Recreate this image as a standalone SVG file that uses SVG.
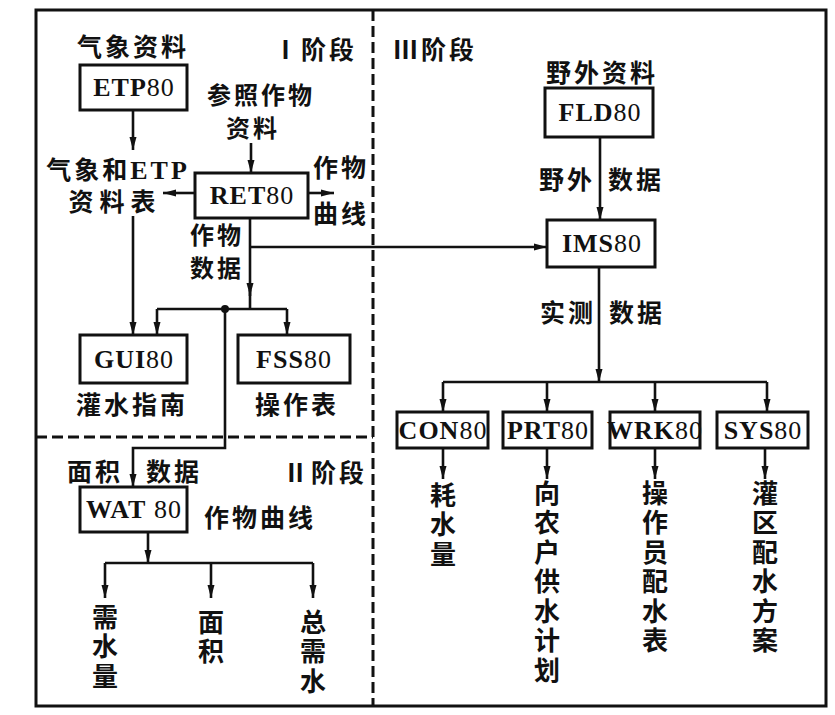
<svg xmlns="http://www.w3.org/2000/svg" width="835" height="715" viewBox="0 0 835 715">
<defs>
<style>
.cjk{font-family:"Noto Sans CJK SC","Noto Sans CJK TC",sans-serif;font-size:25px;font-weight:bold;fill:#111;text-anchor:middle;letter-spacing:3px}
.sm{font-size:24px}
.v{font-family:"Noto Sans CJK SC",sans-serif;font-size:26px;font-weight:bold;fill:#111;writing-mode:vertical-rl;text-orientation:upright;letter-spacing:3.5px}
.lbl{font-family:"Liberation Serif","Times New Roman",serif;font-size:26px;font-weight:bold;fill:#111;text-anchor:middle;letter-spacing:1px}
.num{font-weight:normal}
.box{fill:#fff;stroke:#111;stroke-width:3}
.ln{fill:none;stroke:#111;stroke-width:2.6}
.dash{fill:none;stroke:#111;stroke-width:3;stroke-dasharray:11 5}
.ar{marker-end:url(#ah)}
</style>
<marker id="ah" markerUnits="userSpaceOnUse" markerWidth="14" markerHeight="10" viewBox="0 -5 14 10" refX="13" refY="0" orient="auto">
<path d="M0,-3.5 L13,0 L0,3.5 z" fill="#111"/>
</marker>
</defs>
<rect width="835" height="715" fill="#fff"/>
<g id="frame">
<rect x="36" y="10" width="790" height="696" fill="none" stroke="#111" stroke-width="3"/>
<path class="dash" d="M373,10 V706"/>
<path class="dash" d="M36,437 H373"/>
</g>
<g id="connectors">
<path class="ln ar" d="M133,110 V150"/>
<path class="ln ar" d="M251,143 V173"/>
<path class="ln ar" d="M195,193 H163"/>
<path class="ln ar" d="M308,193 H334"/>
<path class="ln ar" d="M133,216 V335"/>
<path class="ln ar" d="M250,218 V296"/>
<path class="ln" d="M250,290 V309"/>
<path class="ln ar" d="M157,309 V335"/>
<path class="ln ar" d="M287,309 V335"/>
<path class="ln" d="M157,309 H287"/>
<circle cx="225" cy="309" r="4" fill="#111"/>
<path class="ln ar" d="M225,309 V448 H133 V487"/>
<path class="ln ar" d="M250,247 H547"/>
<path class="ln ar" d="M600,137 V220"/>
<path class="ln ar" d="M599,267 V382"/>
<path class="ln" d="M443,382 H767"/>
<path class="ln ar" d="M443,382 V412"/>
<path class="ln ar" d="M547,382 V412"/>
<path class="ln ar" d="M655,382 V412"/>
<path class="ln ar" d="M767,382 V412"/>
<path class="ln ar" d="M443,448 V479"/>
<path class="ln ar" d="M547,448 V479"/>
<path class="ln ar" d="M655,448 V479"/>
<path class="ln ar" d="M765,448 V479"/>
<path class="ln ar" d="M148,532 V563"/>
<path class="ln" d="M105,563 H313"/>
<path class="ln ar" d="M105,563 V598"/>
<path class="ln ar" d="M211,563 V598"/>
<path class="ln ar" d="M313,563 V598"/>
</g>
<g id="ETP80"><rect class="box" x="80" y="65" width="107" height="45"/><text class="lbl" x="134" y="96">ETP<tspan class="num">80</tspan></text></g>
<g id="RET80"><rect class="box" x="195" y="173" width="113" height="45"/><text class="lbl" x="252" y="204">RET<tspan class="num">80</tspan></text></g>
<g id="GUI80"><rect class="box" x="80" y="335" width="107" height="48"/><text class="lbl" x="134" y="368">GUI<tspan class="num">80</tspan></text></g>
<g id="FSS80"><rect class="box" x="238" y="335" width="112" height="48"/><text class="lbl" x="294" y="368">FSS<tspan class="num">80</tspan></text></g>
<g id="WAT80"><rect class="box" x="80" y="487" width="107" height="45"/><text class="lbl" x="134" y="518">WAT<tspan class="num"> 80</tspan></text></g>
<g id="FLD80"><rect class="box" x="545" y="88" width="108" height="49"/><text class="lbl" x="600" y="121">FLD<tspan class="num">80</tspan></text></g>
<g id="IMS80"><rect class="box" x="547" y="220" width="108" height="47"/><text class="lbl" x="602" y="252">IMS<tspan class="num">80</tspan></text></g>
<g id="CON80"><rect class="box" x="397" y="412" width="91" height="36"/><text class="lbl" x="443" y="439" letter-spacing="0">CON<tspan class="num">80</tspan></text></g>
<g id="PRT80"><rect class="box" x="503" y="412" width="89" height="36"/><text class="lbl" x="548" y="439" letter-spacing="0">PRT<tspan class="num">80</tspan></text></g>
<g id="WRK80"><rect class="box" x="610" y="412" width="90" height="36"/><text class="lbl" x="655" y="439" letter-spacing="0">WRK<tspan class="num">80</tspan></text></g>
<g id="SYS80"><rect class="box" x="717" y="412" width="91" height="36"/><text class="lbl" x="763" y="439" letter-spacing="0">SYS<tspan class="num">80</tspan></text></g>
<g id="labels">
<text class="cjk" x="133" y="56">气象资料</text>
<text class="cjk" x="315" y="59">Ⅰ阶段</text>
<text class="cjk sm"><tspan x="261" y="104">参照作物</tspan><tspan x="253" y="137">资料</tspan></text>
<text class="cjk"><tspan x="118" y="179">气象和<tspan font-family="Liberation Serif,serif" font-size="26">ETP</tspan></tspan><tspan x="115" y="211" letter-spacing="6">资料表</tspan></text>
<text class="cjk"><tspan x="341" y="177">作物</tspan><tspan x="341" y="223">曲线</tspan></text>
<text class="cjk sm"><tspan x="217" y="244">作物</tspan><tspan x="217" y="277">数据</tspan></text>
<text class="cjk" x="132" y="414">灌水指南</text>
<text class="cjk" x="297" y="414" letter-spacing="5">操作表</text>
<text class="cjk" x="95" y="481">面积</text>
<text class="cjk" x="174" y="481">数据</text>
<text class="cjk" x="325" y="482">Ⅱ阶段</text>
<text class="cjk" x="260" y="527">作物曲线</text>
<text class="cjk" x="435" y="59">Ⅲ阶段</text>
<text class="cjk" x="602" y="82">野外资料</text>
<text class="cjk" x="567" y="189">野外</text>
<text class="cjk" x="636" y="189">数据</text>
<text class="cjk" x="568" y="322">实测</text>
<text class="cjk" x="637" y="322">数据</text>
<text class="v" x="105" y="604" letter-spacing="4">需水量</text>
<text class="v" x="211" y="609" letter-spacing="4">面积</text>
<text class="v" x="313" y="609" letter-spacing="3">总需水</text>
<text class="v" x="443" y="482" letter-spacing="6">耗水量</text>
<text class="v" x="547" y="480">向农户供水计划</text>
<text class="v" x="655" y="480">操作员配水表</text>
<text class="v" x="765" y="480">灌区配水方案</text>
</g>
</svg>
